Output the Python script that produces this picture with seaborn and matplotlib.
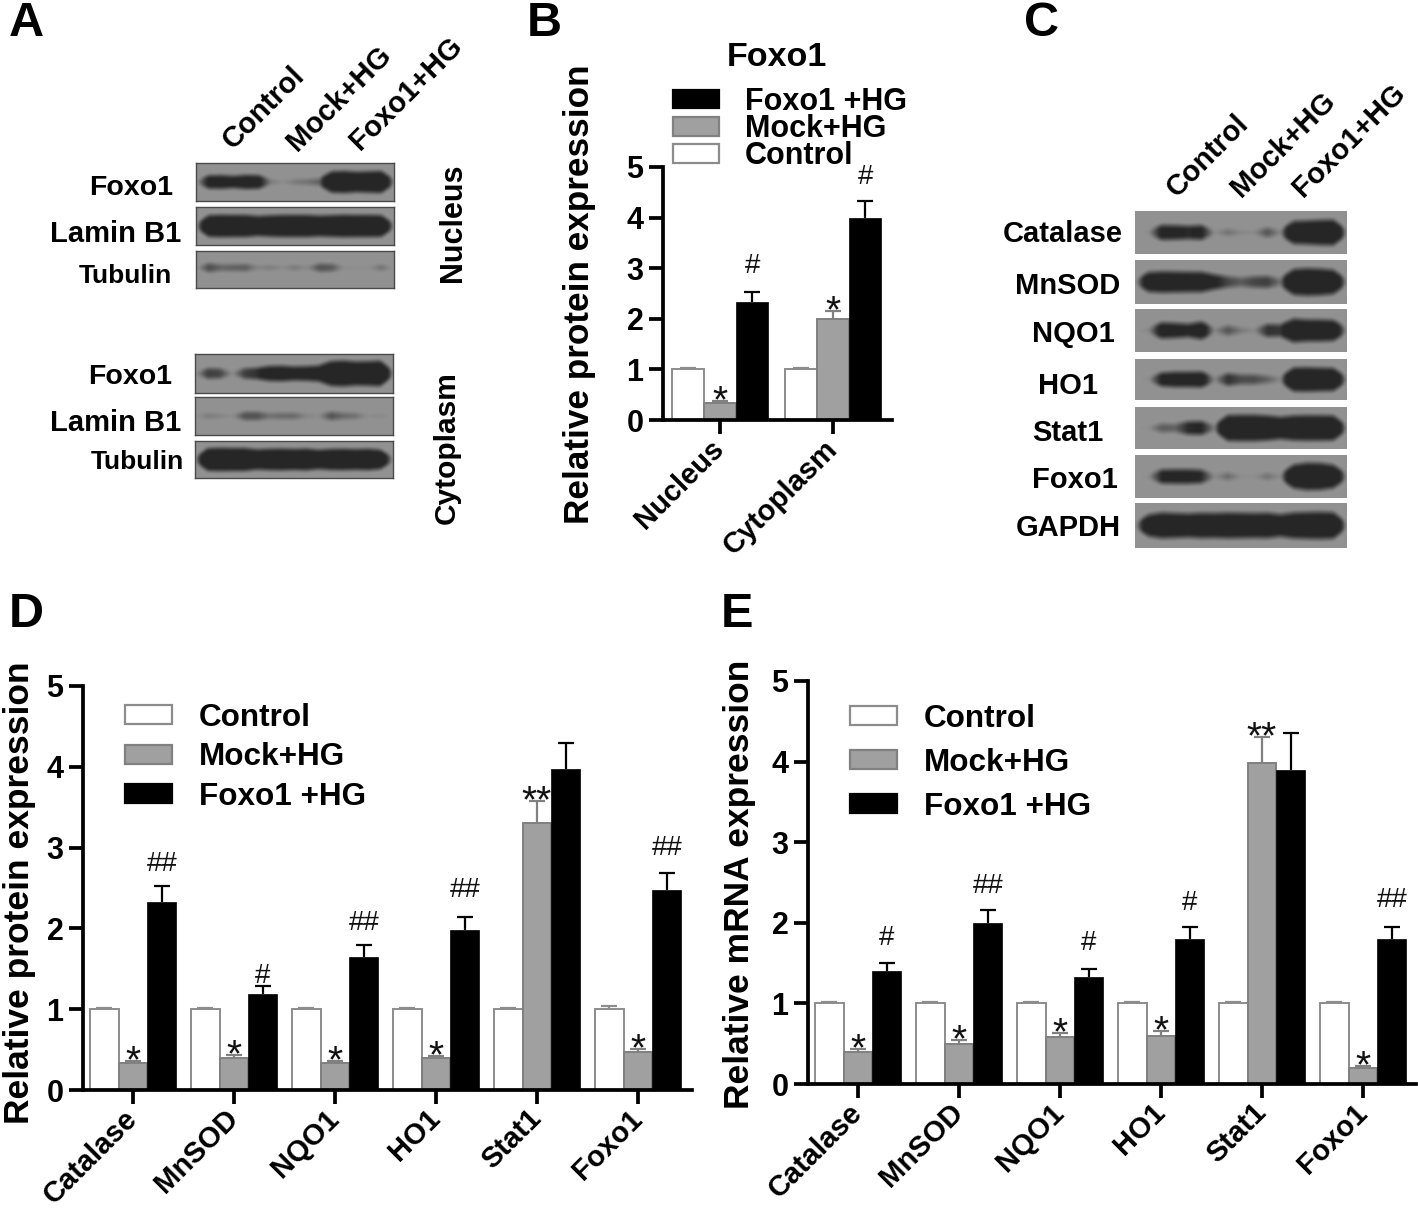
import numpy as np
import pandas as pd
import matplotlib
matplotlib.use('Agg')
import matplotlib.pyplot as plt
from matplotlib.transforms import ScaledTranslation
import seaborn as sns

W, H = 1418, 1211

groups = ['Control', 'Mock+HG', 'Foxo1 +HG']
colors = {'Control': '#ffffff', 'Mock+HG': '#a0a0a0', 'Foxo1 +HG': '#000000'}
edges = {'Control': '#8c8c8c', 'Mock+HG': '#808080', 'Foxo1 +HG': '#000000'}

# Panel B values
b_cats = ['Nucleus', 'Cytoplasm']
b_control = [1.0, 1.0]
b_control_top = [1.02, 1.02]
b_mock = [0.33, 2.0]
b_mock_top = [0.37, 2.15]
b_foxo = [2.33, 4.0]
b_foxo_top = [2.53, 4.33]
b_mock_sig = ['*', '*']
b_foxo_sig = ['#', '#']
b_foxo_sig_y = [2.9, 4.67]

# Panel D values
genes = ['Catalase', 'MnSOD', 'NQO1', 'HO1', 'Stat1', 'Foxo1']
d_control = [1.0, 1.0, 1.0, 1.0, 1.0, 1.0]
d_control_top = [1.02, 1.02, 1.02, 1.02, 1.02, 1.04]
d_mock = [0.33, 0.40, 0.33, 0.39, 3.30, 0.47]
d_mock_top = [0.36, 0.43, 0.36, 0.42, 3.58, 0.51]
d_foxo = [2.33, 1.19, 1.65, 1.98, 3.97, 2.47]
d_foxo_top = [2.53, 1.29, 1.79, 2.14, 4.29, 2.68]
d_mock_sig = ['*', '*', '*', '*', '**', '*']
d_foxo_sig = ['##', '#', '##', '##', '', '##']
d_foxo_sig_y = [2.71, 1.32, 1.98, 2.39, 0, 2.91]

# Panel E values
e_control = [1.0, 1.0, 1.0, 1.0, 1.0, 1.0]
e_control_top = [1.02, 1.02, 1.02, 1.02, 1.02, 1.02]
e_mock = [0.40, 0.50, 0.58, 0.60, 3.98, 0.20]
e_mock_top = [0.43, 0.54, 0.63, 0.66, 4.30, 0.22]
e_foxo = [1.40, 2.00, 1.33, 1.80, 3.90, 1.80]
e_foxo_top = [1.50, 2.16, 1.43, 1.95, 4.35, 1.95]
e_mock_sig = ['*', '*', '*', '*', '**', '*']
e_foxo_sig = ['#', '##', '#', '#', '', '##']
e_foxo_sig_y = [1.72, 2.37, 1.66, 2.16, 0, 2.20]

# Blot band strength, 17 samples across each membrane
a_nuc_foxo = [0, .36, .38, .32, .40, .38, .08, .02, .08, .10, .14, .72, .76, .68, .72, .76, .05]
a_nuc_lamin = [0, .74, .78, .76, .76, .66, .72, .76, .76, .76, .70, .74, .78, .76, .76, .74, .04]
a_nuc_tub = [0, .20, .13, .14, .15, .05, .07, .03, .08, .03, .18, .16, .02, .02, .02, .10, 0]
a_cyt_foxo = [0, .24, .22, .02, .24, .28, .42, .44, .38, .40, .46, .86, .92, .82, .84, .90, .05]
a_cyt_lamin = [0, .08, .05, .02, .18, .18, .10, .12, .12, .05, .03, .18, .12, .10, .02, .04, 0]
a_cyt_tub = [0, .82, .86, .84, .84, .70, .76, .78, .74, .78, .66, .74, .76, .72, .76, .66, .02]
c_cat = [0, .02, .36, .34, .30, .34, .02, .10, .04, .03, .18, .04, .66, .70, .76, .78, .02]
c_sod = [0, .52, .58, .56, .54, .54, .34, .22, .16, .22, .24, .10, .76, .84, .80, .70, .02]
c_nqo = [0, .04, .40, .36, .30, .46, .04, .18, .08, .03, .28, .26, .70, .62, .62, .58, .02]
c_ho1 = [0, .02, .34, .40, .40, .42, .04, .28, .20, .20, .14, .04, .76, .78, .74, .72, .02]
c_stat = [0, .02, .16, .14, .30, .32, .06, .82, .84, .84, .78, .66, .78, .80, .80, .78, .02]
c_foxo = [0, .02, .32, .34, .34, .30, .03, .12, .02, .02, .10, .02, .70, .86, .84, .68, .02]
c_gapdh = [0, .58, .74, .70, .66, .72, .70, .74, .72, .70, .72, .60, .74, .78, .80, .76, .02]

a_lanes = ['Control', 'Mock+HG', 'Foxo1+HG']

sns.set_theme(style='ticks')
plt.rcParams['font.family'] = ['Liberation Sans', 'DejaVu Sans']
fig = plt.figure(figsize=(W / 100, H / 100), dpi=100)


def ptext(x, y, s, size=21, rot=0, weight='bold'):
    fig.text(x / W, 1 - (y + 2) / H, s, fontsize=size, rotation=rot, fontweight=weight,
             ha='center', va='center', color='#000000')


def blot(strength, left, right, top, bottom, border=True, center=0.5):
    ax = fig.add_axes([left / W, 1 - bottom / H, (right - left) / W, (bottom - top) / H])
    n_x, n_y = int(right - left), int(bottom - top)
    xs = np.linspace(0, 1, n_x)
    ys = np.linspace(0, 1, n_y)
    s = np.interp(xs, np.linspace(0, 1, len(strength)), strength)
    half = 0.36 * s ** 0.7
    dist = np.abs(ys[:, None] - center)
    soft = np.clip((half[None, :] - dist) / 0.14 + 0.5, 0, 1)
    dark = soft * np.clip(s * 3.2, 0, 1)[None, :]
    # soften the band outlines a little, films are never crisp
    kernel = np.ones(5) / 5
    dark = np.apply_along_axis(lambda r: np.convolve(r, kernel, mode='same'), 1, dark)
    dark = np.apply_along_axis(lambda c: np.convolve(c, kernel[:3] * 5 / 3, mode='same'), 0, dark)
    img = 0.57 - 0.42 * dark
    sns.heatmap(img, ax=ax, cmap='gray', vmin=0, vmax=1, cbar=False,
                xticklabels=False, yticklabels=False)
    if border:
        for sp in ax.spines.values():
            sp.set_visible(True)
            sp.set_color('#4a4a4a')
            sp.set_linewidth(1.0)


def bar_panel(cats, series, tops, box, tick0, step, legend_groups, legend_pos, legend_font,
              legend_space, tick_size=21):
    left, right, y5, y0 = box
    ax = fig.add_axes([left / W, 1 - y0 / H, (right - left) / W, (y0 - y5) / H])
    frames = []
    for g, vals in zip(groups, series):
        frames.append(pd.DataFrame({'cat': cats, 'group': g, 'value': vals}))
    df = pd.concat(frames)
    sns.barplot(data=df, x='cat', y='value', hue='group', hue_order=groups, palette=colors,
                width=0.855, gap=0, errorbar=None, saturation=1, ax=ax)

    for cont, g, vals, top in zip(ax.containers, groups, series, tops):
        xpos = []
        for bar in cont:
            bar.set_edgecolor(edges[g])
            bar.set_linewidth(1.4 if g != 'Foxo1 +HG' else 0.5)
            xpos.append(bar.get_x() + bar.get_width() / 2)
        vals = np.array(vals)
        top = np.array(top)
        _, caps, _ = ax.errorbar(xpos, vals, yerr=[np.zeros(len(vals)), top - vals], fmt='none',
                                 ecolor=edges[g], elinewidth=1.6, capsize=6, capthick=1.6)
        caps[0].set_visible(False)

    ax.set_xlim((left - tick0) / step, (right - tick0) / step)
    ax.set_ylim(0, 5)
    ax.set_xlabel('')
    ax.set_ylabel('')
    ax.set_yticks(range(6))
    sns.despine(ax=ax)
    for side in ['left', 'bottom']:
        ax.spines[side].set_linewidth(2.7)
        ax.spines[side].set_color('#000000')
    ax.tick_params(axis='both', width=2.7, length=10, color='#000000', pad=4)
    ax.set_xticks(range(len(cats)))
    ax.set_xticklabels(cats, rotation=45, ha='right', rotation_mode='anchor',
                       fontsize=tick_size, fontweight='bold', color='#000000')
    nudge = ScaledTranslation(-10 / 100, 5 / 100, fig.dpi_scale_trans)
    for lab in ax.get_xticklabels():
        lab.set_transform(lab.get_transform() + nudge)
    for lab in ax.get_yticklabels():
        lab.set_fontsize(22)
        lab.set_fontweight('bold')
        lab.set_color('#000000')

    handles, labels = ax.get_legend_handles_labels()
    order = [labels.index(g) for g in legend_groups]
    for i in order:
        handles[i].set_edgecolor(edges[labels[i]])
        handles[i].set_linewidth(1.6)
    ax.legend([handles[i] for i in order], [labels[i] for i in order], frameon=False,
              loc='upper left', bbox_to_anchor=(legend_pos[0] / W, 1 - legend_pos[1] / H),
              bbox_transform=fig.transFigure, borderpad=0, borderaxespad=0, labelcolor='#000000',
              prop={'family': 'Liberation Sans', 'weight': 'bold', 'size': legend_font},
              handlelength=1.5, handleheight=0.55, handletextpad=0.85, labelspacing=legend_space)
    return ax


def add_marks(ax, mock_top, mock_sig, foxo_sig, foxo_y):
    mock_bars, foxo_bars = ax.containers[1], ax.containers[2]
    for bar, top, mark in zip(mock_bars, mock_top, mock_sig):
        ax.annotate(mark, (bar.get_x() + bar.get_width() / 2, top), xytext=(0, -8),
                    textcoords='offset points', ha='center', va='baseline', fontsize=28,
                    annotation_clip=False, color='#111111')
    for bar, y, mark in zip(foxo_bars, foxo_y, foxo_sig):
        if mark:
            ax.text(bar.get_x() + bar.get_width() / 2, y, mark, ha='center', va='baseline',
                    fontsize=20, color='#111111')


# Panel A
blot(a_nuc_foxo, 196, 394, 163, 201)
blot(a_nuc_lamin, 196, 394, 207, 245)
blot(a_nuc_tub, 196, 394, 251, 288, center=0.45)
blot(a_cyt_foxo, 195, 393, 354, 393)
blot(a_cyt_lamin, 195, 393, 397, 435)
blot(a_cyt_tub, 195, 393, 441, 478)
for x, y, s in zip([264, 339, 406], [106, 97, 92], a_lanes):
    ptext(x, y, s, 21, 45)
for x, y, s, fs in zip([131, 116, 125, 130, 116, 137], [186, 232, 274, 375, 421, 460],
                       ['Foxo1', 'Lamin B1', 'Tubulin', 'Foxo1', 'Lamin B1', 'Tubulin'],
                       [20.5, 21, 19, 20.5, 21, 19]):
    ptext(x, y, s, fs)
ptext(453, 221, 'Nucleus', 22, 90)
ptext(447, 446, 'Cytoplasm', 21.5, 90)

# Panel C
c_rows = [(c_cat, 211, 254), (c_sod, 260, 304), (c_nqo, 309, 352), (c_ho1, 359, 400),
          (c_stat, 407, 449), (c_foxo, 455, 498), (c_gapdh, 503, 548)]
for strength, top, bottom in c_rows:
    blot(strength, 1135, 1347, top, bottom, border=False)
for x, y, s in zip([1208, 1283, 1349], [154, 143, 139], a_lanes):
    ptext(x, y, s, 21, 45)
for x, y, s in zip([1063, 1068, 1073, 1068, 1068, 1075, 1068], [232, 284, 332, 384, 431, 478, 526],
                   ['Catalase', 'MnSOD', 'NQO1', 'HO1', 'Stat1', 'Foxo1', 'GAPDH']):
    ptext(x, y, s, 21)

# Panel B
ax_b = bar_panel(b_cats, [b_control, b_mock, b_foxo], [b_control_top, b_mock_top, b_foxo_top],
                 (663, 892, 167, 420), 720, 113, groups[::-1], (673, 87), 22, -0.09)
add_marks(ax_b, b_mock_top, b_mock_sig, b_foxo_sig, b_foxo_sig_y)
ptext(777, 56, 'Foxo1', 24.5)
ptext(580, 292, 'Relative protein expression', 25.3, 90)

# Panel D
ax_d = bar_panel(genes, [d_control, d_mock, d_foxo], [d_control_top, d_mock_top, d_foxo_top],
                 (83, 692, 686, 1090), 133, 101, groups, (125, 703), 22.7, 0.3)
add_marks(ax_d, d_mock_top, d_mock_sig, d_foxo_sig, d_foxo_sig_y)
ptext(20, 891, 'Relative protein expression', 25.5, 90)

# Panel E
ax_e = bar_panel(genes, [e_control, e_mock, e_foxo], [e_control_top, e_mock_top, e_foxo_top],
                 (808, 1416, 681, 1084), 858, 101, groups, (850, 704), 22.7, 0.44)
add_marks(ax_e, e_mock_top, e_mock_sig, e_foxo_sig, e_foxo_sig_y)
ptext(740, 882, 'Relative mRNA expression', 25.5, 90)

# Panel letters
for x, y, s in zip([26, 544, 1042, 26, 737], [22, 22, 22, 613, 613], ['A', 'B', 'C', 'D', 'E']):
    ptext(x, y, s, 35)

fig.savefig('out.png', dpi=100, facecolor='white')
